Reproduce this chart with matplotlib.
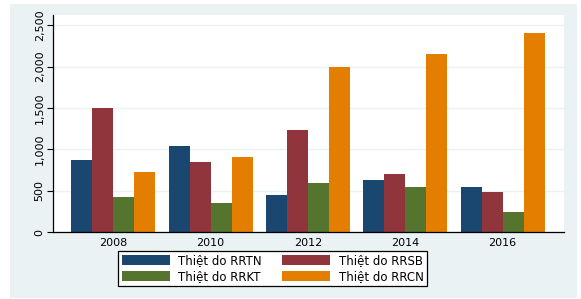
import numpy as np
import matplotlib.pyplot as plt

years = ['2008', '2010', '2012', '2014', '2016']
rrtn = [873, 1042, 447, 628, 547]
rrsb = [1500, 853, 1236, 704, 483]
rrkt = [425, 350, 592, 543, 245]
rrcn = [732, 906, 1993, 2150, 2410]

labels = ['Thiệt do RRTN', 'Thiệt do RRSB', 'Thiệt do RRKT', 'Thiệt do RRCN']
colors = ['#1A476F', '#90353B', '#55752F', '#E37E00']
series = [rrtn, rrsb, rrkt, rrcn]

plt.rcParams['font.family'] = 'DejaVu Sans'
fig = plt.figure(figsize=(5.81, 2.99), dpi=100)
fig.patch.set_facecolor('white')

# light grey-blue graph region behind the plot
bg = fig.add_axes([10 / 581, 1 / 299, 567 / 581, 294 / 299], zorder=-1)
bg.set_facecolor('#EAF2F3')
bg.set_xticks([])
bg.set_yticks([])
for s in bg.spines.values():
    s.set_visible(False)

ax = fig.add_axes([53 / 581, 1 - 232.3 / 299, 511 / 581, 217.3 / 299])
ax.set_facecolor('white')

x = np.arange(len(years))
w = 0.216
bars = []
for i, (vals, c) in enumerate(zip(series, colors)):
    b = ax.bar(x + (i - 1.5) * w, vals, width=w, color=c, linewidth=0, zorder=2)
    bars.append(b)

ax.set_xlim(-0.62, 4.63)
ax.set_ylim(0, 2624)
ax.set_yticks([0, 500, 1000, 1500, 2000, 2500])
ax.set_yticklabels(['0', '500', '1,000', '1,500', '2,000', '2,500'],
                   rotation=90, va='center', fontsize=8)
ax.set_xticks(x)
ax.set_xticklabels(years, fontsize=8)
ax.tick_params(axis='x', length=0, pad=4)
ax.tick_params(axis='y', length=4, width=0.8, pad=2)
ax.grid(axis='y', color='#EAF2F3', linewidth=1, zorder=1)
ax.set_axisbelow(True)
for s in ['top', 'right']:
    ax.spines[s].set_visible(False)
ax.spines['left'].set_linewidth(0.9)
ax.spines['bottom'].set_linewidth(0.9)

# legend: row-wise order RRTN, RRSB / RRKT, RRCN
order = [0, 2, 1, 3]
leg = fig.legend([bars[i] for i in order], [labels[i] for i in order],
                 ncol=2, loc='center', bbox_to_anchor=(272.5 / 581, 1 - 268.5 / 299),
                 fontsize=8.5, frameon=True, fancybox=False, edgecolor='black',
                 handlelength=4.1, handleheight=0.9, columnspacing=1.7,
                 labelspacing=0.2, borderpad=0.3, handletextpad=0.7,
                 borderaxespad=0)
leg.get_frame().set_linewidth(0.9)
leg.get_frame().set_alpha(1)

plt.savefig('out.png', dpi=100)
